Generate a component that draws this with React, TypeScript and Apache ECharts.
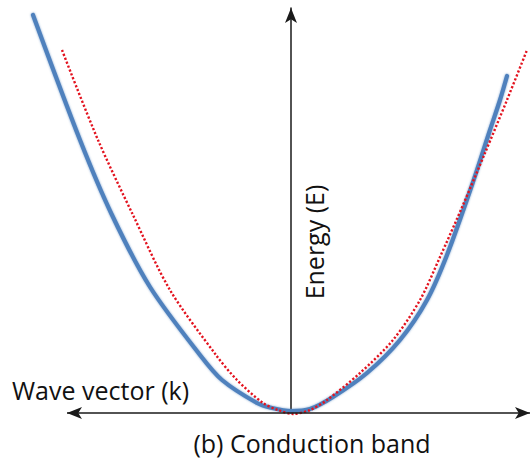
import React, { useEffect, useRef } from "react";
import * as echarts from "echarts";

// Wave vector k and energy E samples for the two bands (arbitrary units)
const bandK = [-2.58, -2.11, -1.79, -1.41, -0.91, -0.69, -0.34, -0.19, 0.0, 0.19, 0.42, 0.76, 1.09, 1.36, 1.56, 1.81, 1.99, 2.09, 2.16];
const bandE = [3.98, 2.73, 1.98, 1.26, 0.58, 0.33, 0.1, 0.05, 0.02, 0.04, 0.16, 0.4, 0.73, 1.13, 1.58, 2.28, 2.83, 3.13, 3.37];

const parabolaK = [-2.29, -1.93, -1.58, -1.21, -0.75, -0.54, -0.28, -0.13, 0.02, 0.19, 0.36, 0.69, 1.02, 1.29, 1.49, 1.72, 1.94, 2.16, 2.36];
const parabolaE = [3.63, 2.73, 1.98, 1.23, 0.58, 0.33, 0.1, 0.03, -0.01, 0.03, 0.13, 0.4, 0.73, 1.13, 1.56, 2.08, 2.6, 3.13, 3.63];

// Extent of the horizontal k axis arrow
const kAxisFrom = -2.24;
const kAxisTo = 2.39;

const xLabel = "Wave vector (k)";
const yLabel = "Energy (E)";
const caption = "(b) Conduction band";

const pairs = (xs: number[], ys: number[]) => xs.map((x, i) => [x, ys[i]]);

const FONT = "'Open Sans', sans-serif";
const AXIS_COLOR = "#1a1a1a";

export default function App() {
  const ref = useRef<HTMLDivElement>(null);

  useEffect(() => {
    if (!ref.current) return;
    const chart = echarts.init(ref.current, undefined, { renderer: "svg" });
    chart.setOption({
      animation: false,
      backgroundColor: "#ffffff",
      grid: { left: 0, right: 1, top: 8, bottom: 49 },
      xAxis: {
        type: "value",
        min: -2.91,
        max: 2.39,
        axisLine: { show: false },
        axisTick: { show: false },
        axisLabel: { show: false },
        splitLine: { show: false },
      },
      yAxis: {
        type: "value",
        min: 0,
        max: 4.05,
        axisLine: {
          show: true,
          onZero: true,
          symbol: ["none", "arrow"],
          symbolSize: [9, 15],
          lineStyle: { color: AXIS_COLOR, width: 1.5 },
        },
        axisTick: { show: false },
        axisLabel: { show: false },
        splitLine: { show: false },
      },
      series: [
        {
          type: "line",
          data: pairs(bandK, bandE),
          smooth: 0.3,
          showSymbol: false,
          clip: false,
          lineStyle: {
            color: "#4f81bd",
            width: 4.2,
            cap: "round",
            shadowBlur: 2,
            shadowColor: "rgba(79,129,189,0.7)",
          },
          markLine: {
            silent: true,
            symbol: ["arrow", "arrow"],
            symbolSize: [9, 15],
            label: { show: false },
            lineStyle: { color: AXIS_COLOR, width: 1.5, type: "solid" },
            data: [[{ coord: [kAxisFrom, 0] }, { coord: [kAxisTo, 0] }]],
          },
        },
        {
          type: "line",
          data: pairs(parabolaK, parabolaE),
          smooth: 0.3,
          showSymbol: false,
          clip: false,
          lineStyle: {
            color: "#e3131f",
            width: 2.4,
            type: [2.2, 2],
          },
        },
      ],
      graphic: [
        {
          type: "text",
          x: 12,
          y: 390,
          style: { text: xLabel, font: `25px ${FONT}`, fill: "#111", verticalAlign: "middle" },
        },
        {
          type: "text",
          x: 312,
          y: 443,
          style: {
            text: caption,
            font: `25px ${FONT}`,
            fill: "#111",
            align: "center",
            verticalAlign: "middle",
          },
        },
        {
          type: "text",
          x: 314,
          y: 242,
          rotation: Math.PI / 2,
          style: {
            text: yLabel,
            font: `25px ${FONT}`,
            fill: "#111",
            align: "center",
            verticalAlign: "middle",
          },
        },
      ],
    });
    return () => chart.dispose();
  }, []);

  return (
    <div
      ref={ref}
      style={{ position: "absolute", left: 0, top: 0, width: 531, height: 462 }}
    />
  );
}
